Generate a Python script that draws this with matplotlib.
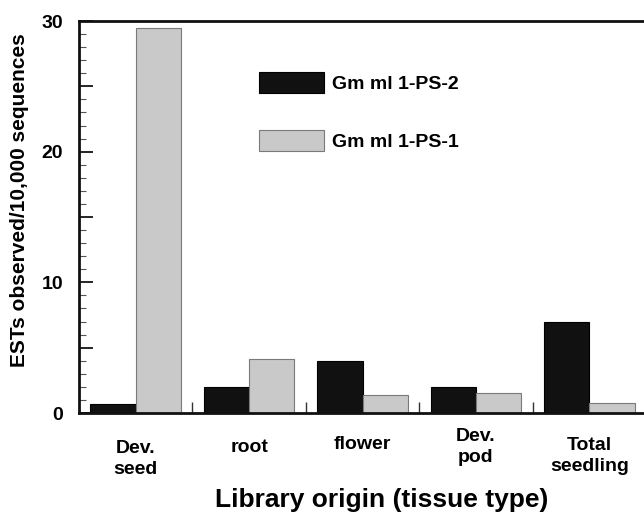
import matplotlib
matplotlib.use("Agg")
import matplotlib.pyplot as plt
from matplotlib.patches import Patch
from matplotlib.ticker import MultipleLocator, FuncFormatter

# data
tissues = ["Dev.\nseed", "root", "flower", "Dev.\npod", "Total\nseedling"]
ps2_values = [0.7, 2.0, 4.0, 2.0, 7.0]
ps1_values = [29.5, 4.1, 1.4, 1.5, 0.8]
series_names = ["Gm ml 1-PS-2", "Gm ml 1-PS-1"]

# layout: label drop below the x axis, in points (labels sit unevenly in the original)
label_drop = [33, 24.5, 23, 24.5, 31]

plt.rcParams["font.family"] = ["Liberation Sans", "DejaVu Sans"]
plt.rcParams["font.weight"] = "bold"

W, H = 644, 513
fig = plt.figure(figsize=(W / 100, H / 100), dpi=100)
ax = fig.add_axes([79 / W, (H - 413) / H, (646 - 79) / W, (413 - 21) / H])

x = list(range(len(tissues)))
bar_w = 0.4
ax.bar([i - bar_w / 2 for i in x], ps2_values, width=bar_w,
       color="#111111", edgecolor="#000000", linewidth=0.8)
ax.bar([i + bar_w / 2 for i in x], ps1_values, width=bar_w,
       color="#c9c9c9", edgecolor="#7a7a7a", linewidth=0.8)

ax.set_xlim(-0.5, len(tissues) - 0.5)
ax.set_ylim(0, 30)

# x ticks only at group boundaries, pointing up
ax.set_xticks([i + 0.5 for i in x[:-1]])
ax.set_xticklabels([])
ax.tick_params(axis="x", direction="in", length=8, width=1.0, color="#333333")

ax.yaxis.set_major_locator(MultipleLocator(5))
ax.yaxis.set_minor_locator(MultipleLocator(1))
ax.yaxis.set_major_formatter(FuncFormatter(lambda v, p: f"{int(v)}" if v % 10 == 0 else ""))
ax.tick_params(axis="y", which="major", direction="in", length=10, width=1.2,
               labelsize=14, pad=11.5)
ax.tick_params(axis="y", which="minor", direction="in", length=5, width=0.8,
               color="#555555")

for side in ["left", "bottom", "top"]:
    ax.spines[side].set_linewidth(2.0)
    ax.spines[side].set_color("#111111")
ax.spines["right"].set_linewidth(0.8)
ax.spines["right"].set_color("#dddddd")

for i, (name, drop) in enumerate(zip(tissues, label_drop)):
    ax.annotate(name, xy=(i, 0), xycoords="data", xytext=(0, -drop),
                textcoords="offset points", ha="center", va="center",
                fontsize=14, fontweight="bold", linespacing=1.3,
                annotation_clip=False)

ax.set_ylabel("ESTs observed/10,000 sequences", fontsize=15, fontweight="bold")
ax.yaxis.set_label_coords((29 - 79) / (646 - 79), (413 - 200) / 392)

fig.text(382 / W, 1 - 500 / H, "Library origin (tissue type)", ha="center",
         va="center", fontsize=19, fontweight="bold")

handles = [Patch(facecolor="#111111", edgecolor="#000000", linewidth=0.8),
           Patch(facecolor="#c9c9c9", edgecolor="#7a7a7a", linewidth=0.8)]
ax.legend(handles, series_names, loc="upper left",
          bbox_to_anchor=(259 / W, 1 - 72 / H), bbox_transform=fig.transFigure,
          frameon=False, borderpad=0, borderaxespad=0, handlelength=3.35,
          handleheight=1.29, handletextpad=0.4, labelspacing=1.88,
          prop={"size": 14, "weight": "bold"})

fig.savefig("out.png", dpi=100)
